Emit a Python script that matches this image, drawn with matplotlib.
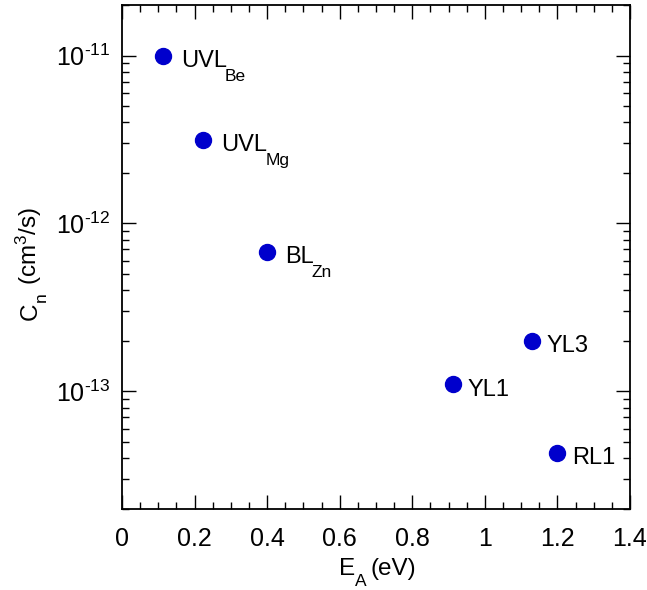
import numpy as np
import matplotlib
matplotlib.use('Agg')
import matplotlib.pyplot as plt
from matplotlib.ticker import MultipleLocator, LogLocator, FuncFormatter

plt.rcParams['font.family'] = ['Liberation Sans', 'DejaVu Sans']
plt.rcParams['mathtext.fontset'] = 'custom'
plt.rcParams['mathtext.rm'] = 'Liberation Sans'
plt.rcParams['mathtext.it'] = 'Liberation Sans'
plt.rcParams['mathtext.default'] = 'regular'
plt.rcParams['axes.unicode_minus'] = False

# activation energy (eV) and capture coefficient (cm^3/s) for each band
names = ['UVL', 'UVL', 'BL', 'YL1', 'YL3', 'RL1']
subs = ['Be', 'Mg', 'Zn', '', '', '']
energy = [0.113, 0.224, 0.40, 0.913, 1.13, 1.20]
cn = [1.0e-11, 3.15e-12, 6.8e-13, 1.1e-13, 2.0e-13, 4.3e-14]

xticks = [0, 0.2, 0.4, 0.6, 0.8, 1.0, 1.2, 1.4]
xticklabels = ['0', '0.2', '0.4', '0.6', '0.8', '1', '1.2', '1.4']
yticks = [1e-13, 1e-12, 1e-11]

W, H = 647, 590


def pow_label(v, pos):
    e = int(round(np.log10(v)))
    return r'$10^{\text{%d}}$' % e


def point_label(ax, x, y, main, sub, dx):
    # main text with its subscript hanging below the baseline
    t = ax.annotate(main, (x, y), xytext=(dx, -8), textcoords='offset points',
                    fontsize=17, va='baseline', ha='left')
    if sub:
        ax.annotate(sub, xy=(1, y), xycoords=(t, 'data'), xytext=(-1.5, -18),
                    textcoords='offset points', fontsize=12.5, va='baseline', ha='left')


def main():
    fig = plt.figure(figsize=(W / 100, H / 100), dpi=100)
    ax = fig.add_axes([122 / W, 1 - 508.7 / H, 508 / W, 503.7 / H])

    ax.plot(energy, cn, 'o', color='#0000cc', ms=11.5, mec='#0000cc')
    # labels with subscripts sit a little further from their dots
    for x, y, m, s in zip(energy, cn, names, subs):
        point_label(ax, x, y, m, s, 13 if s else 10.5)

    ax.set_yscale('log')
    ax.set_xlim(0, 1.4)
    ax.set_ylim(2e-14, 2e-11)
    ax.set_xticks(xticks)
    ax.set_xticklabels(xticklabels)
    ax.xaxis.set_minor_locator(MultipleLocator(0.05))
    ax.set_yticks(yticks)
    ax.yaxis.set_major_formatter(FuncFormatter(pow_label))
    ax.yaxis.set_minor_locator(LogLocator(base=10, subs=np.arange(2, 10)))
    ax.yaxis.set_minor_formatter(FuncFormatter(lambda v, p: ''))

    ax.tick_params(which='both', direction='in', top=True, right=True,
                   labelsize=18, colors='black')
    ax.tick_params(axis='x', pad=13)
    ax.tick_params(axis='y', pad=8)
    ax.tick_params(which='major', length=10, width=1)
    ax.tick_params(which='minor', length=5, width=1)
    for sp in ax.spines.values():
        sp.set_linewidth(1.3)

    # x label: E_A (eV)
    bx = 1 - 575 / H
    e = fig.text(339 / W, bx, 'E', fontsize=17.5, va='baseline', ha='left')
    a = ax.annotate('A', xy=(1, bx), xycoords=(e, 'figure fraction'),
                    xytext=(0, -8), textcoords='offset points',
                    fontsize=12.5, va='baseline', ha='left')
    ax.annotate('(eV)', xy=(1, bx), xycoords=(a, 'figure fraction'),
                xytext=(3, 0), textcoords='offset points',
                fontsize=17.5, va='baseline', ha='left')

    # y label: C_n (cm^3/s), read bottom to top
    by = 37 / W
    c = fig.text(by, 1 - 320 / H, 'C', fontsize=17.5, rotation=90,
                 rotation_mode='anchor', va='baseline', ha='left')
    n = ax.annotate('n', xy=(by, 1), xycoords=('figure fraction', c),
                    xytext=(6, 0.5), textcoords='offset points', fontsize=12.5,
                    rotation=90, rotation_mode='anchor', va='baseline', ha='left')
    ax.annotate('(cm$^{3}$/s)', xy=(by, 1), xycoords=('figure fraction', n),
                xytext=(0, 5), textcoords='offset points', fontsize=17.5,
                rotation=90, rotation_mode='anchor', va='baseline', ha='left')

    fig.savefig('out.png', dpi=100)


if __name__ == '__main__':
    main()
